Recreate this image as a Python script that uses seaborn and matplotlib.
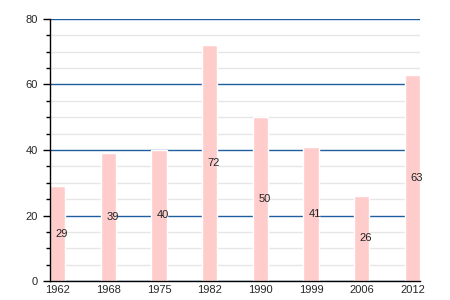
import matplotlib
matplotlib.use("Agg")
import matplotlib.pyplot as plt
import seaborn as sns
import pandas as pd
from matplotlib.ticker import MultipleLocator

years = ["1962", "1968", "1975", "1982", "1990", "1999", "2006", "2012"]
values = [29, 39, 40, 72, 50, 41, 26, 63]

df = pd.DataFrame({"year": years, "value": values})

sns.set_style("white")
plt.rcParams['font.family'] = ['Liberation Sans', 'DejaVu Sans']

fig = plt.figure(figsize=(4.5, 3), dpi=100)
ax = fig.add_axes([50/450, 19/300, 370/450, 262/300])

sns.barplot(data=df, x="year", y="value", color="#ffcccc", saturation=1,
            width=0.3, ax=ax, zorder=3)

ax.set_xlim(-0.15, len(years) - 1 + 0.15)
ax.set_ylim(0, 80)
ax.yaxis.set_major_locator(MultipleLocator(20))
ax.yaxis.set_minor_locator(MultipleLocator(5))
ax.grid(which="major", axis="y", color="#1f5f9f", linewidth=1, zorder=1)
ax.grid(which="minor", axis="y", color="#e6e6e6", linewidth=1, zorder=0)
ax.set_axisbelow(True)

for s in ["top", "right"]:
    ax.spines[s].set_visible(False)
for s in ["left", "bottom"]:
    ax.spines[s].set_color("black")
    ax.spines[s].set_linewidth(1)
    ax.spines[s].set_zorder(5)

ax.tick_params(axis="y", which="major", direction="out", length=5, width=1,
               color="black", labelsize=8, left=True)
ax.tick_params(axis="y", which="minor", direction="out", length=3, width=1,
               color="black", left=True)
ax.tick_params(axis="x", length=0, labelsize=8, pad=3)
ax.set_xlabel("")
ax.set_ylabel("")

for i, v in enumerate(values):
    ax.text(i + 0.08, v / 2, str(v), ha="center", va="center", fontsize=8,
            color="#222222", zorder=6)

fig.savefig("out.png", dpi=100)
